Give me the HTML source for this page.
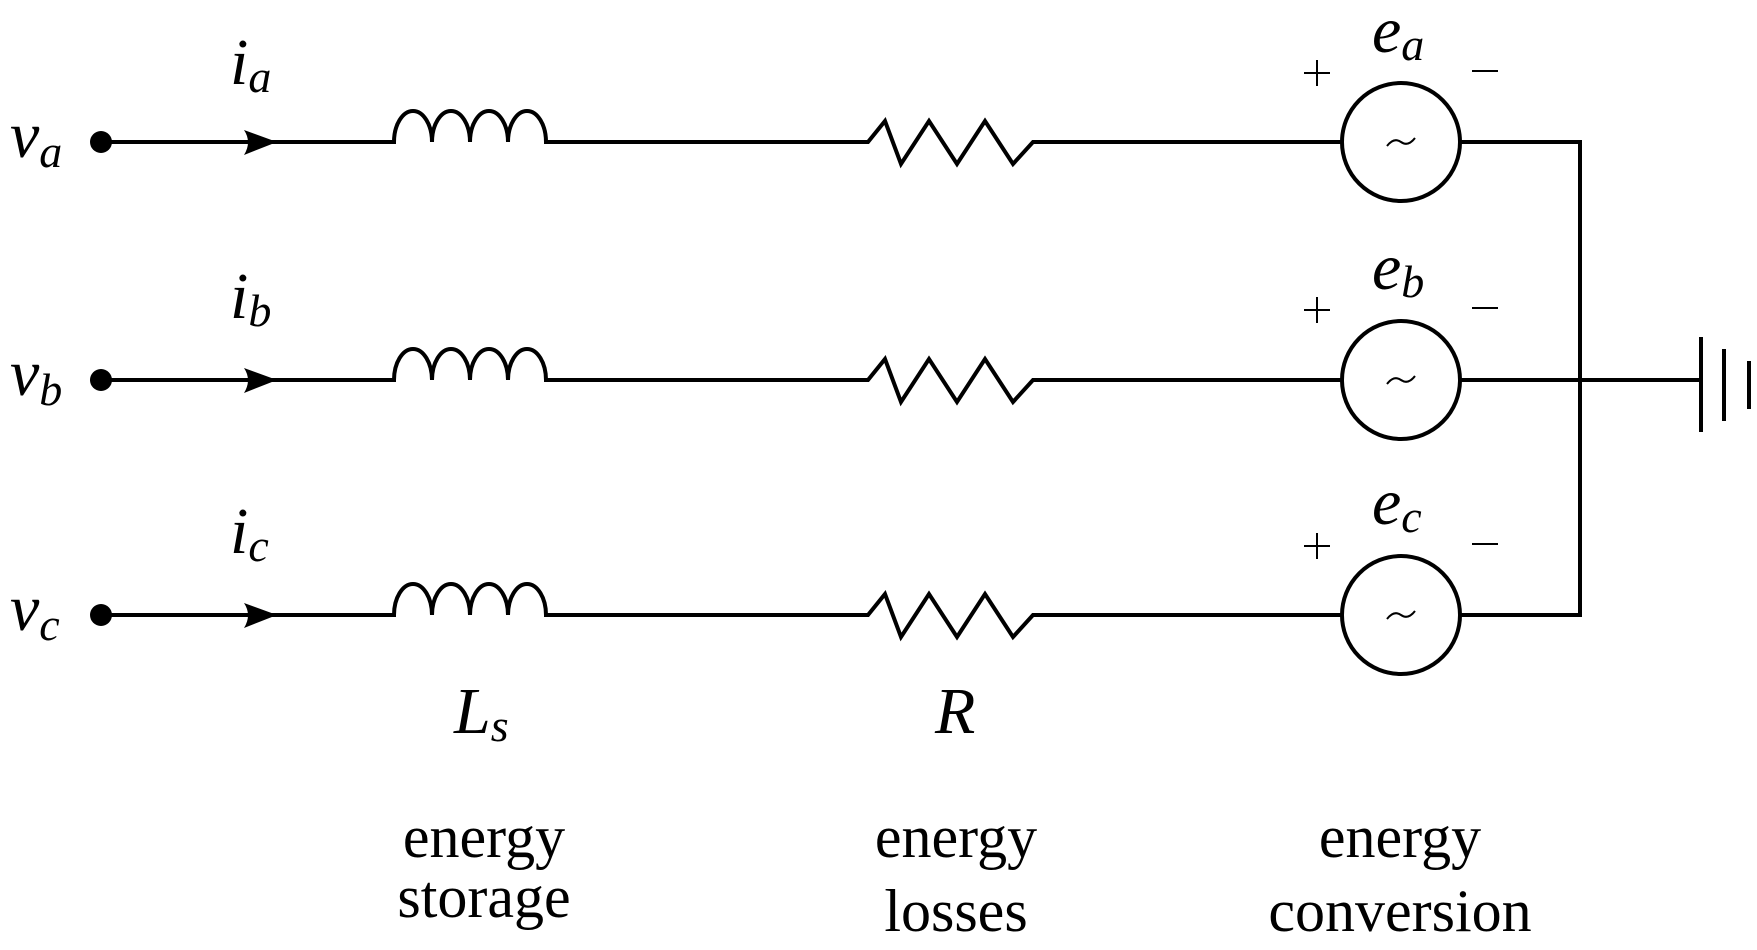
<!DOCTYPE html>
<html><head><meta charset="utf-8"><style>
html,body{margin:0;padding:0;background:#fff;}
svg{display:block;}
text{font-family:"Liberation Serif",serif;fill:#000;}
.m{font-style:italic;}
</style></head><body>
<svg width="1757" height="950" viewBox="0 0 1757 950" xmlns="http://www.w3.org/2000/svg">
<g stroke="#000" stroke-width="4" fill="none">
<path d="M101 142 H394 a19 31 0 0 1 38 0 a19 31 0 0 1 38 0 a19 31 0 0 1 38 0 a19 31 0 0 1 38 0 H868 L885 121 L901 164 L929 121 L957 164 L985 121 L1013 164 L1033 142 H1341"/>
<path d="M101 380 H394 a19 31 0 0 1 38 0 a19 31 0 0 1 38 0 a19 31 0 0 1 38 0 a19 31 0 0 1 38 0 H868 L885 359 L901 402 L929 359 L957 402 L985 359 L1013 402 L1033 380 H1341"/>
<path d="M101 615 H394 a19 31 0 0 1 38 0 a19 31 0 0 1 38 0 a19 31 0 0 1 38 0 a19 31 0 0 1 38 0 H868 L885 594 L901 637 L929 594 L957 637 L985 594 L1013 637 L1033 615 H1341"/>
<circle cx="1401" cy="142" r="59"/>
<circle cx="1401" cy="380" r="59"/>
<circle cx="1401" cy="615" r="59"/>
<path d="M1460 142 H1580 V615 H1460"/>
<path d="M1460 380 H1701"/>
<path d="M1701 337 V432 M1724 349 V421 M1749 361 V409"/>
</g>
<g stroke="#000" stroke-width="2" fill="none">
<path d="M1387 146 q7 -9 14 -4 q7 5 14 -4"/>
<path d="M1387 384 q7 -9 14 -4 q7 5 14 -4"/>
<path d="M1387 619 q7 -9 14 -4 q7 5 14 -4"/>
<path d="M1304 73 h26 M1317 60 v26 M1472 71 h26"/>
<path d="M1304 310 h26 M1317 297 v26 M1472 308 h26"/>
<path d="M1304 546 h26 M1317 533 v26 M1472 544 h26"/>
</g>
<g fill="#000">
<circle cx="101" cy="142" r="11"/><circle cx="101" cy="380" r="11"/><circle cx="101" cy="615" r="11"/>
<path d="M277 142 L244 130 Q252 142 244 155 Z"/>
<path d="M277 380 L244 368 Q252 380 244 393 Z"/>
<path d="M277 615 L244 603 Q252 615 244 628 Z"/>
</g>
<g class="m" font-size="66">
<text x="10" y="157">v<tspan font-size="46" dy="10">a</tspan></text>
<text x="10" y="395">v<tspan font-size="46" dy="10">b</tspan></text>
<text x="10" y="630">v<tspan font-size="46" dy="10">c</tspan></text>
<text x="230" y="84">i<tspan font-size="46" dy="8">a</tspan></text>
<text x="230" y="318">i<tspan font-size="46" dy="8">b</tspan></text>
<text x="230" y="553">i<tspan font-size="46" dy="8">c</tspan></text>
<text x="1372" y="52">e<tspan font-size="46" dy="8">a</tspan></text>
<text x="1372" y="289">e<tspan font-size="46" dy="8">b</tspan></text>
<text x="1372" y="524">e<tspan font-size="46" dy="8">c</tspan></text>
<text x="454" y="733">L<tspan font-size="46" dy="8">s</tspan></text>
<text x="935" y="733">R</text>
</g>
<g font-size="60" text-anchor="middle">
<text x="484" y="857">energy</text><text x="484" y="917">storage</text>
<text x="956" y="857">energy</text><text x="956" y="931">losses</text>
<text x="1400" y="857">energy</text><text x="1400" y="931">conversion</text>
</g>
</svg>
</body></html>
